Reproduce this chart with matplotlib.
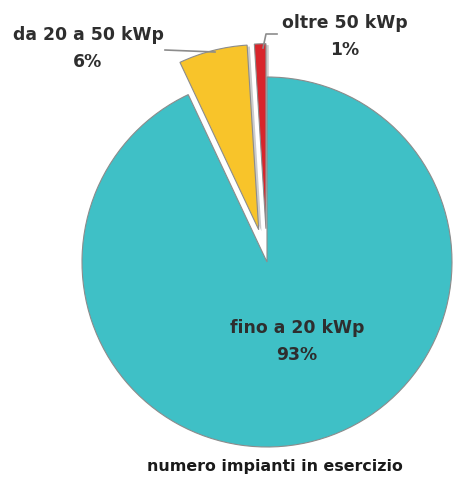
import matplotlib.pyplot as plt
import matplotlib.patches as mpatches

plt.rcParams['font.family'] = ['DejaVu Sans']

labels = ["oltre 50 kWp", "da 20 a 50 kWp", "fino a 20 kWp"]
shares = [1, 6, 93]
colors = ["#d8252b", "#f8c42a", "#3fc0c6"]
pull = [0.18, 0.18, 0.0]

W, H = 455, 482
fig = plt.figure(figsize=(W / 100, H / 100), dpi=100)
ax = fig.add_axes([0, 0, 1, 1])

cx, cy, r = 267, H - 262, 185
wedges, _ = ax.pie(shares, colors=colors, explode=[p * r for p in pull],
                   startangle=90, counterclock=True, center=(cx, cy), radius=r,
                   wedgeprops=dict(edgecolor="#8c8c8c", linewidth=0.8),
                   frame=True)
ax.set_xlim(0, W)
ax.set_ylim(0, H)
ax.set_aspect("equal")
ax.axis("off")

# grey drop shadow on the two pulled-out slices
for w in wedges[:2]:
    sh = mpatches.Shadow(w, 2.0, -1.0, facecolor="#9a9a9a", edgecolor="none")
    sh.set_zorder(w.get_zorder() - 0.5)
    ax.add_patch(sh)

txt = dict(fontsize=12.4, fontweight="bold", color="#2e2e2e",
           ha="center", va="center", linespacing=1.6)
ax.text(88, H - 48.5, f"{labels[1]}\n{shares[1]}%", **txt)
ax.text(345, H - 36.5, f"{labels[0]}\n{shares[0]}%", **txt)
ax.text(297, H - 341.5, f"{labels[2]}\n{shares[2]}%", **txt)

# leader lines
ax.plot([165, 215], [H - 50, H - 52], color="#8c8c8c", lw=1.2)
ax.plot([263, 266, 277], [H - 48, H - 34, H - 34], color="#8c8c8c", lw=1.2)

ax.text(274.5, H - 467, "numero impianti in esercizio", fontsize=11.4,
        fontweight="bold", color="#1a1a1a", ha="center", va="center")

fig.savefig("out.png", dpi=100)
